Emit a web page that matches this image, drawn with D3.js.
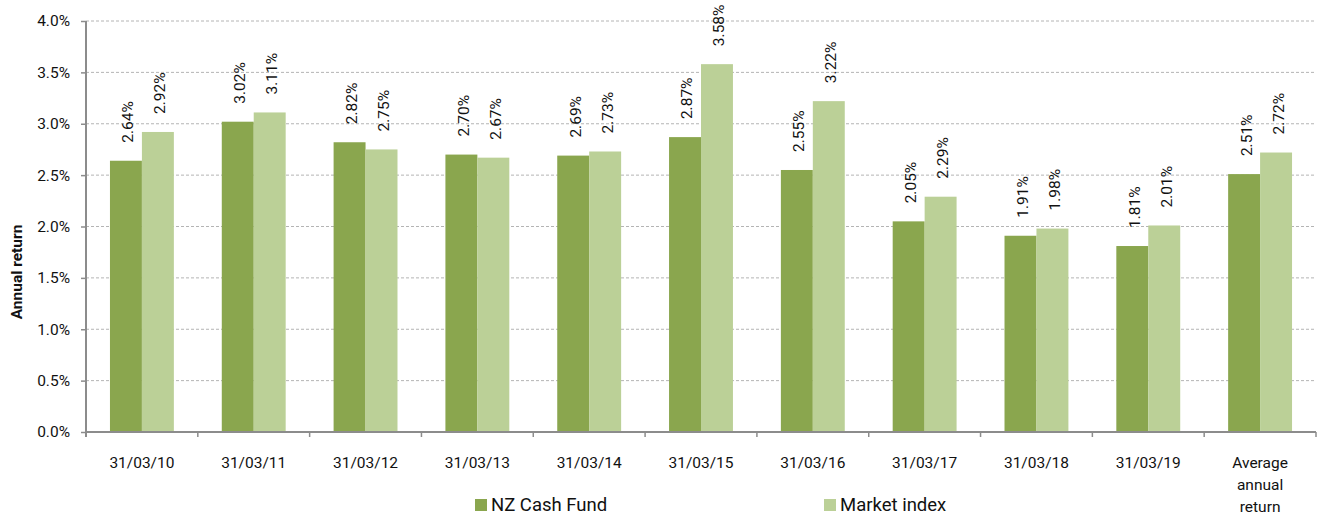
<!DOCTYPE html>
<html>
<head>
<meta charset="utf-8">
<script src="https://cdn.jsdelivr.net/npm/d3@7"></script>
<style>
    body { margin: 0; background: #fff; }
    svg { display: block; font-family: Roboto, "Noto Sans", sans-serif; }
</style>
</head>
<body>
<svg id="chart" width="1317" height="516"></svg>
<script>
(function () {
    'use strict';

    // --- Data ----------------------------------------------------------
    var categories = ['31/03/10', '31/03/11', '31/03/12', '31/03/13', '31/03/14',
        '31/03/15', '31/03/16', '31/03/17', '31/03/18', '31/03/19',
        'Average annual return'];
    var cashFund = [2.64, 3.02, 2.82, 2.70, 2.69, 2.87, 2.55, 2.05, 1.91, 1.81, 2.51];
    var marketIndex = [2.92, 3.11, 2.75, 2.67, 2.73, 3.58, 3.22, 2.29, 1.98, 2.01, 2.72];
    var seriesNames = ['NZ Cash Fund', 'Market index'];
    var yTicks = [0, 0.5, 1, 1.5, 2, 2.5, 3, 3.5, 4];

    var colors = ['#8aa64e', '#bbd097'];

    // --- Layout --------------------------------------------------------
    var left = 86, right = 1316, top = 21, bottom = 432;
    var svg = d3.select('#chart');

    var x = d3.scaleBand().domain(categories).range([left, right]).padding(0);
    var inner = d3.scaleBand().domain([0, 1]).range([0, x.bandwidth()])
        .paddingOuter(0.75).paddingInner(0);
    var y = d3.scaleLinear().domain([0, 4]).range([bottom, top]);

    // gridlines
    svg.append('g').selectAll('line').data(yTicks.slice(1)).join('line')
        .attr('x1', left).attr('x2', right)
        .attr('y1', function (d) { return y(d); })
        .attr('y2', function (d) { return y(d); })
        .attr('stroke', '#b4b4b4')
        .attr('stroke-dasharray', '3,2')
        .attr('stroke-width', 1);

    // bars
    var rows = categories.map(function (c, i) {
        return { cat: c, vals: [cashFund[i], marketIndex[i]] };
    });

    var groups = svg.append('g').selectAll('g').data(rows).join('g')
        .attr('transform', function (d) { return 'translate(' + x(d.cat) + ',0)'; });

    groups.selectAll('rect')
        .data(function (d) { return d.vals.map(function (v, k) { return { v: v, k: k }; }); })
        .join('rect')
        .attr('x', function (d) { return inner(d.k); })
        .attr('width', inner.bandwidth())
        .attr('y', function (d) { return y(d.v); })
        .attr('height', function (d) { return bottom - y(d.v); })
        .attr('fill', function (d) { return colors[d.k]; });

    // value labels (rotated)
    groups.selectAll('text')
        .data(function (d) { return d.vals.map(function (v, k) { return { v: v, k: k }; }); })
        .join('text')
        .attr('transform', function (d) {
            var cx = inner(d.k) + inner.bandwidth() / 2 + 2;
            return 'translate(' + cx + ',' + (y(d.v) - 18) + ') rotate(-90)';
        })
        .attr('dy', '0.35em')
        .attr('font-size', 15.5)
        .attr('fill', '#111')
        .text(function (d) { return d.v.toFixed(2) + '%'; });

    // y axis
    var yAxis = svg.append('g')
        .attr('transform', 'translate(' + left + ',0)')
        .call(d3.axisLeft(y).tickValues(yTicks).tickSize(5).tickPadding(11)
            .tickFormat(function (d) { return d.toFixed(1) + '%'; }));
    yAxis.select('.domain').attr('stroke', '#8c8c8c').attr('stroke-width', 2)
        .attr('d', 'M0,' + top + 'V' + (bottom + 5));
    yAxis.selectAll('.tick line').attr('stroke', '#8c8c8c').attr('stroke-width', 1.5);
    yAxis.selectAll('.tick text').attr('font-size', 15.5).attr('fill', '#111')
        .attr('font-family', 'Roboto, sans-serif');

    // x axis
    var xAxis = svg.append('g').attr('transform', 'translate(0,' + bottom + ')');
    xAxis.append('line')
        .attr('x1', left).attr('x2', right)
        .attr('stroke', '#8c8c8c').attr('stroke-width', 2);
    xAxis.selectAll('line.tk').data(categories).join('line')
        .attr('class', 'tk')
        .attr('x1', function (d) { return x(d) + x.bandwidth(); })
        .attr('x2', function (d) { return x(d) + x.bandwidth(); })
        .attr('y1', 0).attr('y2', 5)
        .attr('stroke', '#8c8c8c').attr('stroke-width', 1.5);

    var xl = xAxis.selectAll('text').data(categories).join('text')
        .attr('x', function (d) { return x(d) + x.bandwidth() / 2; })
        .attr('y', 36)
        .attr('text-anchor', 'middle')
        .attr('font-size', 15.5)
        .attr('fill', '#111');
    xl.each(function (d) {
        var t = d3.select(this);
        var parts = d.indexOf('/') >= 0 ? [d] : ['Average', 'annual', 'return'];
        t.selectAll('tspan').data(parts).join('tspan')
            .attr('x', x(d) + x.bandwidth() / 2)
            .attr('dy', function (p, i) { return i ? 22 : 0; })
            .text(function (p) { return p; });
    });

    // y axis title
    svg.append('text')
        .attr('transform', 'translate(22,272) rotate(-90)')
        .attr('text-anchor', 'middle')
        .attr('font-size', 15.5)
        .attr('font-weight', 'bold')
        .attr('fill', '#111')
        .text('Annual return');

    // legend
    var legendX = [475, 824];
    var legend = svg.append('g').selectAll('g').data(seriesNames).join('g')
        .attr('transform', function (d, i) { return 'translate(' + legendX[i] + ',499)'; });
    legend.append('rect')
        .attr('width', 12).attr('height', 12)
        .attr('fill', function (d, i) { return colors[i]; });
    legend.append('text')
        .attr('x', 16).attr('y', 6).attr('dy', '0.35em')
        .attr('font-size', 18.5)
        .attr('fill', '#111')
        .text(function (d) { return d; });
}());
</script>
</body>
</html>
